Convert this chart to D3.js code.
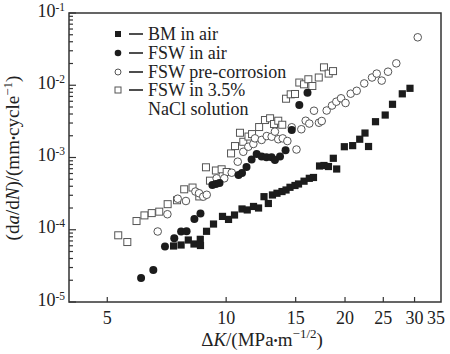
<!DOCTYPE html>
<html>
<head>
<meta charset="utf-8">
<script src="https://cdn.jsdelivr.net/npm/d3@7"></script>
<style>
body{margin:0;background:#fff;}
svg{display:block;font-family:"Liberation Serif","Times New Roman",serif;}
</style>
</head>
<body>
<svg id="chart" width="450" height="354"></svg>
<script>
// BM in air
var bmK = [7.36,7.69,8.02,8.29,8.60,8.61,8.92,9.29,9.79,10.14,10.50,10.97,11.31,11.73,12.08,12.47,12.79,13.10,13.45,13.85,14.18,14.51,14.94,15.25,15.75,16.24,16.64,17.24,17.69,18.16,18.68,19.05,19.92,20.91,21.79,22.47,22.94,23.89,25.28,26.38,27.93,29.21];
var bmRate = [5.96e-5,6.15e-5,7.21e-5,6.35e-5,7.37e-5,6.05e-5,9.52e-5,1.20e-4,1.53e-4,1.39e-4,1.60e-4,1.94e-4,1.88e-4,2.10e-4,2.00e-4,2.87e-4,2.31e-4,3.03e-4,3.20e-4,3.38e-4,3.55e-4,3.87e-4,4.10e-4,4.30e-4,4.70e-4,5.15e-4,5.29e-4,7.63e-4,7.75e-4,7.50e-4,9.75e-4,6.93e-4,1.41e-3,1.46e-3,1.79e-3,2.18e-3,1.42e-3,3.13e-3,3.87e-3,5.45e-3,7.61e-3,9.07e-3];
// FSW in air
var airK = [6.09,6.54,7.00,7.39,7.69,7.94,8.31,8.61,9.23,9.42,9.62,10.75,10.97,11.26,11.60,11.95,12.30,12.65,13.03,13.29,13.69,14.14,14.66,15.32,16.07];
var airRate = [2.15e-5,2.77e-5,5.86e-5,7.61e-5,9.46e-5,9.52e-5,1.41e-4,1.68e-4,4.16e-4,4.30e-4,4.44e-4,5.73e-4,6.10e-4,7.38e-4,9.38e-4,1.12e-3,1.03e-3,1.01e-3,1.01e-3,9.23e-4,1.03e-3,1.26e-3,2.40e-3,5.33e-3,7.88e-3];
// FSW pre-corrosion
var preK = [6.71,7.10,7.54,7.91,8.36,8.54,8.75,8.93,9.46,9.89,10.33,10.70,11.05,11.38,11.72,11.83,12.30,12.67,13.04,13.29,13.55,13.91,14.29,14.66,15.07,15.50,15.90,16.24,16.69,17.18,17.46,17.97,18.54,19.01,19.54,20.06,20.67,21.41,22.37,23.41,24.06,24.77,25.70,26.97,30.56];
var preRate = [9.46e-5,1.64e-4,2.69e-4,2.50e-4,3.38e-4,3.20e-4,2.87e-4,3.05e-4,5.15e-4,5.15e-4,6.16e-4,8.75e-4,1.20e-3,1.41e-3,1.54e-3,1.84e-3,1.75e-3,1.98e-3,1.94e-3,2.28e-3,1.79e-3,1.84e-3,1.69e-3,2.62e-3,1.29e-3,2.46e-3,3.23e-3,2.95e-3,4.44e-3,3.03e-3,3.20e-3,4.47e-3,5.24e-3,5.92e-3,6.60e-3,5.68e-3,7.64e-3,8.38e-3,1.06e-2,1.28e-2,1.45e-2,1.16e-2,1.54e-2,2.01e-2,4.61e-2];
// FSW in 3.5% NaCl solution
var naclK = [5.33,5.62,5.93,6.21,6.48,6.77,7.11,7.51,7.83,8.22,8.55,8.89,9.10,9.42,9.74,10.03,10.29,10.53,10.84,11.05,11.39,11.63,12.12,12.54,12.92,13.22,13.55,13.87,14.18,14.57,14.94,15.32,15.75,16.15,16.53,17.16,17.69,18.18,18.65];
var naclRate = [8.38e-5,6.76e-5,1.32e-4,1.58e-4,1.70e-4,1.78e-4,2.26e-4,2.56e-4,3.63e-4,3.84e-4,2.89e-4,7.32e-4,4.78e-4,6.61e-4,6.87e-4,6.30e-4,1.14e-3,1.44e-3,2.20e-3,1.65e-3,1.95e-3,2.11e-3,2.64e-3,3.30e-3,3.49e-3,2.91e-3,3.23e-3,2.84e-3,6.51e-3,7.49e-3,7.57e-3,1.09e-2,1.03e-2,1.21e-2,9.76e-3,1.28e-2,1.77e-2,1.45e-2,1.57e-2];

var xTicks = [5,10,15,20,25,30,35];
var yTicks = [1e-5,1e-4,1e-3,1e-2,1e-1];
var yExp = ["-5","-4","-3","-2","-1"];
var legendLabels = ["BM in air","FSW in air","FSW pre-corrosion","FSW in 3.5%"];

var svg = d3.select("#chart");
var x = d3.scaleLog().domain([4,35]).range([69,441]);
var y = d3.scaleLog().domain([1e-5,1e-1]).range([302,13]);

function zip(a,b){ return a.map(function(d,i){ return {k:d, r:b[i]}; }); }

// frame
svg.append("rect")
    .attr("x",69).attr("y",13)
    .attr("width",372).attr("height",289)
    .attr("fill","none").attr("stroke","#333").attr("stroke-width",1.5);

// y ticks (major + minor, pointing inward)
svg.append("g").selectAll("line")
    .data(y.ticks())
    .enter()
    .append("line")
    .attr("x1",69)
    .attr("x2",function(d){ return Math.abs(Math.log10(d)-Math.round(Math.log10(d)))<1e-9 ? 76 : 73; })
    .attr("y1",function(d){ return y(d); })
    .attr("y2",function(d){ return y(d); })
    .attr("stroke","#333").attr("stroke-width",1.2);

var yLab = svg.append("g").selectAll("text")
    .data(yTicks)
    .enter()
    .append("text")
    .attr("x",65)
    .attr("y",function(d){ return y(d)+3.5; })
    .attr("text-anchor","end")
    .attr("font-size",18)
    .attr("fill","#222");
yLab.append("tspan").text("10");
yLab.append("tspan")
    .attr("dy",-6)
    .attr("font-size",11.5)
    .text(function(d,i){ return yExp[i]; });

// x ticks
svg.append("g").selectAll("line")
    .data(xTicks.filter(function(d){ return d<35; }))
    .enter()
    .append("line")
    .attr("x1",function(d){ return x(d); })
    .attr("x2",function(d){ return x(d); })
    .attr("y1",302).attr("y2",297)
    .attr("stroke","#333").attr("stroke-width",1.2);

svg.append("g").selectAll("text")
    .data(xTicks)
    .enter()
    .append("text")
    .attr("x",function(d){ return d==35 ? x(d)-5 : x(d); })
    .attr("y",324)
    .attr("text-anchor","middle")
    .attr("font-size",18)
    .attr("fill","#222")
    .text(function(d){ return d; });

// axis titles
var xt = svg.append("text")
    .attr("x",262).attr("y",346)
    .attr("text-anchor","middle")
    .attr("font-size",19)
    .attr("fill","#222");
xt.append("tspan").text("Δ");
xt.append("tspan").attr("font-style","italic").text("K");
xt.append("tspan").text("/(MPa");
xt.append("tspan").attr("font-size",12).attr("dy",-1).text("•");
xt.append("tspan").attr("dy",1).text("m");
xt.append("tspan").attr("font-size",13).attr("dy",-8).text("−1/2");
xt.append("tspan").attr("dy",8).text(")");

var yt = svg.append("text")
    .attr("transform","translate(19,158) rotate(-90)")
    .attr("text-anchor","middle")
    .attr("font-size",19)
    .attr("fill","#222");
yt.append("tspan").text("(d");
yt.append("tspan").attr("font-style","italic").text("a");
yt.append("tspan").text("/d");
yt.append("tspan").attr("font-style","italic").text("N");
yt.append("tspan").text(")/(mm");
yt.append("tspan").attr("font-size",12).attr("dy",-1).text("•");
yt.append("tspan").attr("dy",1).text("cycle");
yt.append("tspan").attr("font-size",13).attr("dy",-7).text("−1");
yt.append("tspan").attr("dy",7).text(")");

// open squares - NaCl
svg.append("g").selectAll("rect")
    .data(zip(naclK,naclRate))
    .enter()
    .append("rect")
    .attr("x",function(d){ return x(d.k)-3.5; })
    .attr("y",function(d){ return y(d.r)-3.5; })
    .attr("width",7).attr("height",7)
    .attr("fill","#fff").attr("stroke","#555").attr("stroke-width",1);

// open circles - pre-corrosion
svg.append("g").selectAll("circle")
    .data(zip(preK,preRate))
    .enter()
    .append("circle")
    .attr("cx",function(d){ return x(d.k); })
    .attr("cy",function(d){ return y(d.r); })
    .attr("r",3.8)
    .attr("fill","#fff").attr("stroke","#555").attr("stroke-width",1);

// filled squares - BM
svg.append("g").selectAll("rect")
    .data(zip(bmK,bmRate))
    .enter()
    .append("rect")
    .attr("x",function(d){ return x(d.k)-3.6; })
    .attr("y",function(d){ return y(d.r)-3.6; })
    .attr("width",7.2).attr("height",7.2)
    .attr("fill","#1c1c1c");

// filled circles - FSW in air
svg.append("g").selectAll("circle")
    .data(zip(airK,airRate))
    .enter()
    .append("circle")
    .attr("cx",function(d){ return x(d.k); })
    .attr("cy",function(d){ return y(d.r); })
    .attr("r",4)
    .attr("fill","#1c1c1c");

// legend
var lg = svg.append("g");
var rows = [34,53,72,90];
lg.append("rect").attr("x",115).attr("y",rows[0]-3).attr("width",6).attr("height",6).attr("fill","#1c1c1c");
lg.append("circle").attr("cx",118).attr("cy",rows[1]).attr("r",3.3).attr("fill","#1c1c1c");
lg.append("circle").attr("cx",118).attr("cy",rows[2]).attr("r",3).attr("fill","#fff").attr("stroke","#555");
lg.append("rect").attr("x",115).attr("y",rows[3]-3).attr("width",6).attr("height",6).attr("fill","#fff").attr("stroke","#555");
lg.selectAll("line")
    .data(rows)
    .enter()
    .append("line")
    .attr("x1",129).attr("x2",143)
    .attr("y1",function(d){ return d; }).attr("y2",function(d){ return d; })
    .attr("stroke","#222").attr("stroke-width",1.6);
lg.selectAll("text.lab")
    .data(legendLabels)
    .enter()
    .append("text")
    .attr("class","lab")
    .attr("x",148)
    .attr("y",function(d,i){ return rows[i]+6; })
    .attr("font-size",18)
    .attr("fill","#222")
    .text(function(d){ return d; });
lg.append("text")
    .attr("x",148).attr("y",115)
    .attr("font-size",18)
    .attr("fill","#222")
    .text("NaCl solution");
</script>
</body>
</html>
